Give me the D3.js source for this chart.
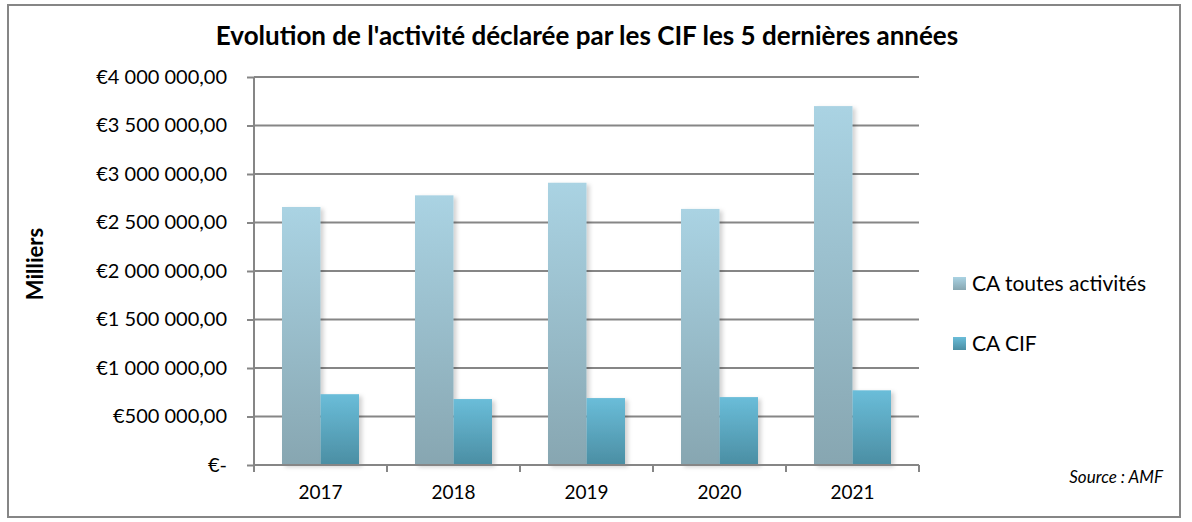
<!DOCTYPE html>
<html>
<head>
<meta charset="utf-8">
<script src="https://cdn.jsdelivr.net/npm/d3@7/dist/d3.min.js"></script>
<style>
  body { margin: 0; background: #fff; }
  svg { font-family: Lato, "Open Sans", sans-serif; }
</style>
</head>
<body>
<svg id="chart" width="1192" height="522"></svg>
<script>
var years = ["2017", "2018", "2019", "2020", "2021"];
var seriesNames = ["CA toutes activités", "CA CIF"];
var caTotal = [2660000, 2780000, 2910000, 2640000, 3700000];
var caCif = [730000, 680000, 690000, 700000, 770000];
var yTicks = [0, 500000, 1000000, 1500000, 2000000, 2500000, 3000000, 3500000, 4000000];

var svg = d3.select("#chart");
var plotLeft = 254, plotRight = 919, plotTop = 77, plotBottom = 465;

// gradients for bars and legend swatches
var defs = svg.append("defs");
var grads = [["g0", "#aad3e3", "#87a6b1"], ["g1", "#6abdd9", "#4b8ea3"]];
grads.forEach(function(g) {
    var lg = defs.append("linearGradient").attr("id", g[0])
        .attr("x1", 0).attr("y1", 0).attr("x2", 0).attr("y2", 1);
    lg.append("stop").attr("offset", "0%").attr("stop-color", g[1]);
    lg.append("stop").attr("offset", "100%").attr("stop-color", g[2]);
});
var f = defs.append("filter").attr("id", "shadow")
    .attr("x", "-20%").attr("y", "-5%").attr("width", "150%").attr("height", "115%");
f.append("feDropShadow").attr("dx", 3).attr("dy", 2).attr("stdDeviation", 2)
    .attr("flood-color", "#000").attr("flood-opacity", 0.18);

// outer frame
svg.append("rect").attr("x", 8).attr("y", 5).attr("width", 1172).attr("height", 512)
    .attr("fill", "#fff").attr("stroke", "#868686").attr("stroke-width", 2);

var x = d3.scaleBand().domain(years).range([plotLeft, plotRight]);
var y = d3.scaleLinear().domain([0, 4000000]).range([plotBottom, plotTop]);

// gridlines
svg.append("g").selectAll("line").data(yTicks.slice(1)).join("line")
    .attr("x1", plotLeft).attr("x2", plotRight)
    .attr("y1", function(d) { return y(d); }).attr("y2", function(d) { return y(d); })
    .attr("stroke", "#868686").attr("stroke-width", 2);

// bars
var barW = 38.5;
var groups = svg.append("g").selectAll("g").data(years).join("g")
    .attr("transform", function(d) { return "translate(" + (x(d) + (x.bandwidth() - 2 * barW) / 2) + ",0)"; });
[caTotal, caCif].forEach(function(vals, s) {
    groups.append("rect")
        .attr("x", s * barW)
        .attr("y", function(d, i) { return y(vals[i]); })
        .attr("width", barW)
        .attr("height", function(d, i) { return plotBottom - y(vals[i]); })
        .attr("fill", "url(#g" + s + ")")
        .attr("filter", "url(#shadow)");
});

// y axis
var yAxis = d3.axisLeft(y).tickValues(yTicks).tickSize(7).tickPadding(20)
    .tickFormat(function(d) {
        if (d === 0) return "€-";
        return "€" + d3.format(",")(d).replace(/,/g, " ") + ",00";
    });
var ya = svg.append("g").attr("transform", "translate(" + plotLeft + ",0)").call(yAxis);
ya.select(".domain").attr("stroke", "#868686").attr("stroke-width", 2).attr("d", "M0," + plotTop + "V" + plotBottom);
ya.selectAll(".tick line").attr("stroke", "#868686").attr("stroke-width", 2);
ya.selectAll("text").attr("font-size", 20).attr("fill", "#000").attr("font-family", "Lato");

// x axis
var xAxis = d3.axisBottom(x).tickSize(0).tickPadding(21);
var xa = svg.append("g").attr("transform", "translate(0," + plotBottom + ")").call(xAxis);
xa.select(".domain").remove();
xa.selectAll("text").attr("font-size", 19).attr("fill", "#000").attr("font-family", "Lato");
xa.append("line").attr("x1", plotLeft).attr("x2", plotRight).attr("y1", 0).attr("y2", 0)
    .attr("stroke", "#868686").attr("stroke-width", 2);
xa.selectAll("line.sep").data(years.concat(["end"])).join("line").attr("class", "sep")
    .attr("x1", function(d) { return d === "end" ? plotRight : x(d); })
    .attr("x2", function(d) { return d === "end" ? plotRight : x(d); })
    .attr("y1", 0).attr("y2", 7)
    .attr("stroke", "#868686").attr("stroke-width", 2);

// title
svg.append("text").attr("x", 587).attr("y", 45).attr("text-anchor", "middle")
    .attr("font-size", 26).attr("font-weight", "bold")
    .text("Evolution de l'activité déclarée par les CIF les 5 dernières années");

// y label
svg.append("text").attr("transform", "translate(43,264) rotate(-90)").attr("text-anchor", "middle")
    .attr("font-size", 22).attr("font-weight", "bold").text("Milliers");

// legend
var leg = svg.append("g").selectAll("g").data(seriesNames).join("g")
    .attr("transform", function(d, i) { return "translate(953," + (277 + i * 60) + ")"; });
leg.append("rect").attr("width", 13).attr("height", 13)
    .attr("fill", function(d, i) { return "url(#g" + i + ")"; });
leg.append("text").attr("x", 19).attr("y", 14).attr("font-size", 21).text(function(d) { return d; });

// source
svg.append("text").attr("x", 1163).attr("y", 483).attr("text-anchor", "end")
    .attr("font-size", 17).attr("font-style", "italic").text("Source : AMF");
</script>
</body>
</html>
